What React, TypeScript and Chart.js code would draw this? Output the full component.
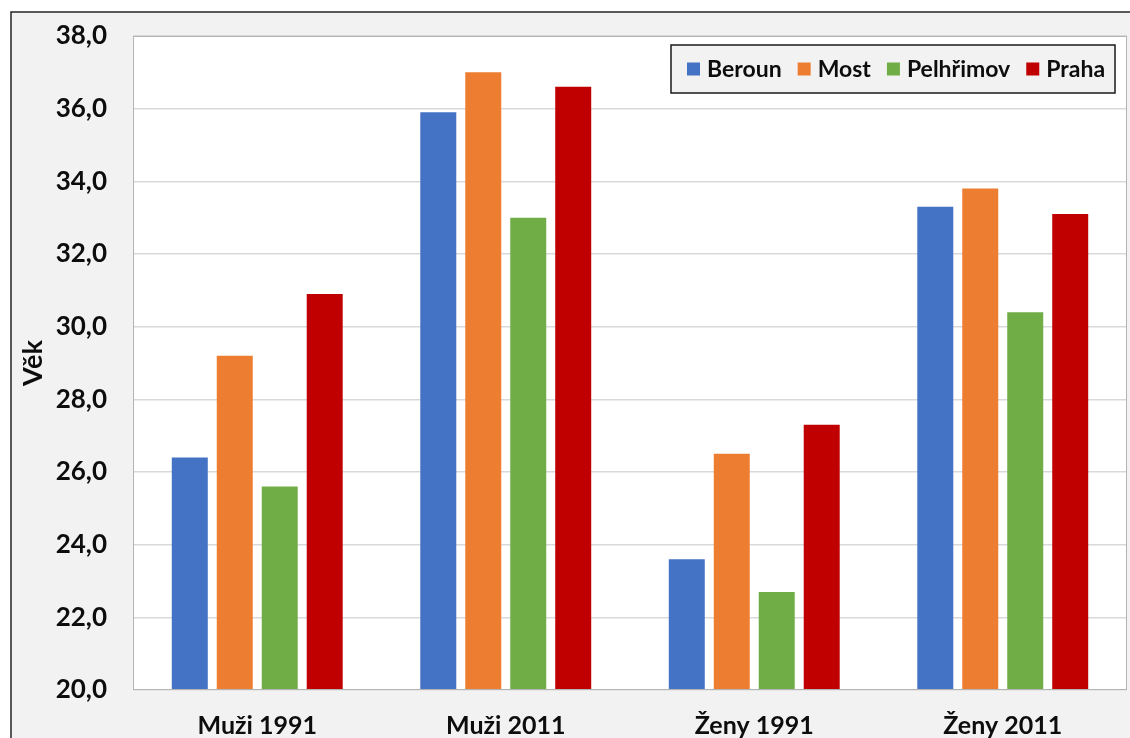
import { useEffect, useRef } from "react";
import { Chart, registerables } from "chart.js";

Chart.register(...registerables);

const categories = ["Muži 1991", "Muži 2011", "Ženy 1991", "Ženy 2011"];
const seriesNames = ["Beroun", "Most", "Pelhřimov", "Praha"];
const berounValues = [26.4, 35.9, 23.6, 33.3];
const mostValues = [29.2, 37.0, 26.5, 33.8];
const pelhrimovValues = [25.6, 33.0, 22.7, 30.4];
const prahaValues = [30.9, 36.6, 27.3, 33.1];
const seriesColors = ["#4472C4", "#ED7D31", "#70AD47", "#C00000"];
const yMin = 20;
const yMax = 38;
const yStep = 2;
const yTitle = "Věk";

const FONT = "Lato, 'Open Sans', sans-serif";

const backgroundPlugin = {
  id: "bgPlugin",
  beforeDraw(chart: any) {
    const { ctx, width, height, chartArea } = chart;
    ctx.save();
    ctx.fillStyle = "#ffffff";
    ctx.fillRect(0, 0, width, height);
    ctx.fillStyle = "#f2f2f2";
    ctx.fillRect(11, 12, width - 11, height - 12);
    ctx.strokeStyle = "#262626";
    ctx.lineWidth = 1.5;
    ctx.beginPath();
    ctx.moveTo(11, height);
    ctx.lineTo(11, 12);
    ctx.lineTo(width, 12);
    ctx.stroke();
    ctx.fillStyle = "#ffffff";
    ctx.fillRect(chartArea.left, chartArea.top, chartArea.right - chartArea.left, chartArea.bottom - chartArea.top);
    ctx.restore();
  },
  afterDraw(chart: any) {
    const { ctx, chartArea } = chart;
    ctx.save();
    ctx.strokeStyle = "#b4b4b4";
    ctx.lineWidth = 1;
    ctx.strokeRect(chartArea.left + 0.5, chartArea.top + 0.5, chartArea.right - chartArea.left - 1, chartArea.bottom - chartArea.top - 1);

    // legend box
    const boxL = 671, boxT = 45, boxR = 1115, boxB = 93;
    ctx.fillStyle = "#f2f2f2";
    ctx.fillRect(boxL, boxT, boxR - boxL, boxB - boxT);
    ctx.strokeStyle = "#1a1a1a";
    ctx.lineWidth = 1.5;
    ctx.strokeRect(boxL, boxT, boxR - boxL, boxB - boxT);
    ctx.font = `bold 23px ${FONT}`;
    ctx.textBaseline = "middle";
    ctx.textAlign = "left";
    const cy = 69;
    const sq = 13;
    let x = 687;
    chart.data.datasets.forEach((ds: any) => {
      ctx.fillStyle = ds.backgroundColor;
      ctx.fillRect(x, cy - sq / 2, sq, sq);
      x += sq + 7;
      ctx.fillStyle = "#0d0d0d";
      ctx.fillText(ds.label, x, cy + 1);
      x += ctx.measureText(ds.label).width + 16;
    });
    ctx.restore();
  },
};

export default function App() {
  const canvasRef = useRef<HTMLCanvasElement | null>(null);

  useEffect(() => {
    document.body.style.margin = "0";
    const canvas = canvasRef.current;
    if (!canvas) return;
    const valueLists = [berounValues, mostValues, pelhrimovValues, prahaValues];
    const chart = new Chart(canvas, {
      type: "bar",
      data: {
        labels: categories,
        datasets: seriesNames.map((name, i) => ({
          label: name,
          data: valueLists[i],
          backgroundColor: seriesColors[i],
          borderWidth: 0,
          barPercentage: 0.8,
          categoryPercentage: 0.724,
        })),
      },
      options: {
        responsive: false,
        animation: false,
        devicePixelRatio: 1,
        layout: { padding: { top: 36, right: 3, left: 0, bottom: 0 } },
        plugins: {
          legend: { display: false },
          tooltip: { enabled: false },
        },
        scales: {
          x: {
            grid: { display: false },
            border: { display: false },
            ticks: {
              color: "#0d0d0d",
              font: { family: FONT, size: 25, weight: "bold" },
              padding: 13,
              maxRotation: 0,
            },
            afterFit(scale: any) {
              scale.height = 48;
            },
          },
          y: {
            min: yMin,
            max: yMax,
            grid: { color: "#d9d9d9", lineWidth: 1.5, drawTicks: false },
            border: { display: false },
            ticks: {
              stepSize: yStep,
              color: "#0d0d0d",
              font: { family: FONT, size: 26, weight: "bold" },
              padding: 26,
              callback: (v: any) => Number(v).toFixed(1).replace(".", ","),
            },
            title: {
              display: true,
              text: yTitle,
              color: "#0d0d0d",
              font: { family: FONT, size: 27, weight: "bold" },
              padding: { top: 17, bottom: 0 },
            },
            afterFit(scale: any) {
              scale.width = 133;
              scale.paddingTop = 0;
              scale.paddingBottom = 0;
            },
          },
        },
      },
      plugins: [backgroundPlugin],
    });
    return () => chart.destroy();
  }, []);

  return (
    <div style={{ width: 1130, height: 738, overflow: "hidden" }}>
      <canvas ref={canvasRef} width={1130} height={738} style={{ display: "block", width: 1130, height: 738 }} />
    </div>
  );
}
